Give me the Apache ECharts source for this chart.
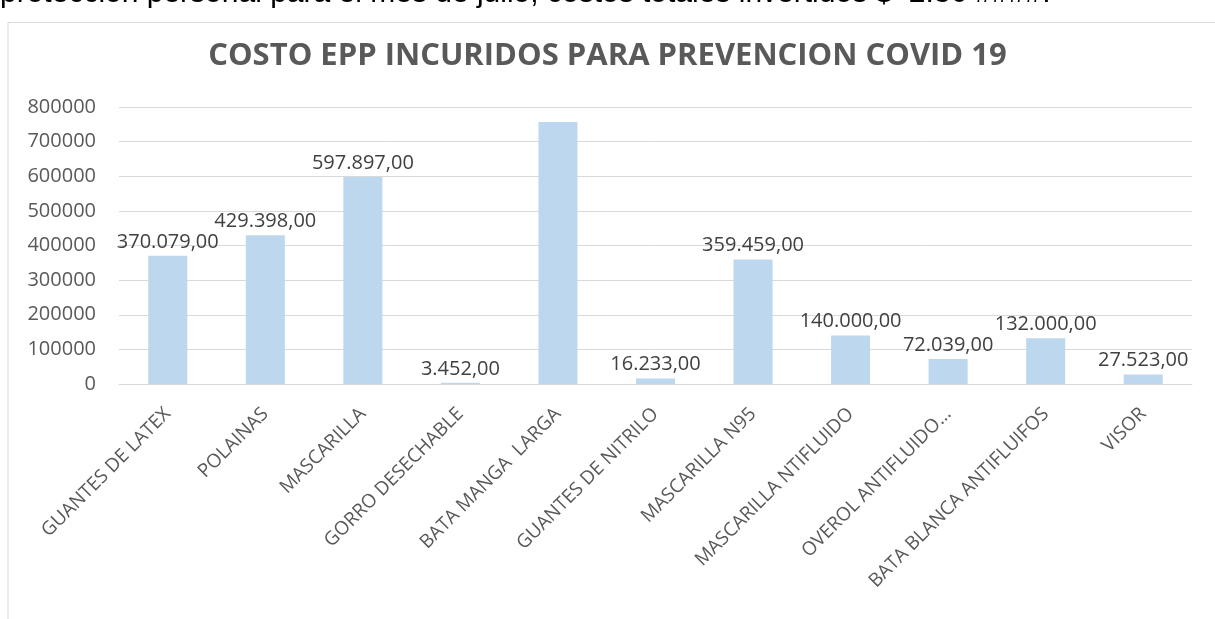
<!DOCTYPE html>
<html>
<head>
<meta charset="utf-8">
<script src="https://cdn.jsdelivr.net/npm/echarts@6/dist/echarts.min.js"></script>
<style>
  html, body { margin: 0; padding: 0; background: #fff; }
  #container { width: 1215px; height: 619px; }
</style>
</head>
<body>
<div id="container"></div>
<script>
var categories = ['GUANTES DE LATEX', 'POLAINAS', 'MASCARILLA', 'GORRO DESECHABLE', 'BATA MANGA  LARGA',
    'GUANTES DE NITRILO', 'MASCARILLA N95', 'MASCARILLA NTIFLUIDO', 'OVEROL ANTIFLUIDO…',
    'BATA BLANCA ANTIFLUIFOS', 'VISOR'];
var costos = [370079, 429398, 597897, 3452, 756600, 16233, 359459, 140000, 72039, 132000, 27523];
// la etiqueta de BATA MANGA LARGA no aparece en el original
var showLabel = [true, true, true, true, false, true, true, true, true, true, true];

// 370079 -> "370.079,00"
function formatoCOP(v) {
    var s = String(Math.round(v)).replace(/\B(?=(\d{3})+(?!\d))/g, '.');
    return s + ',00';
}

var myChart = echarts.init(document.getElementById('container'));

var option = {
    animation: false,
    title: {
        text: 'COSTO EPP INCURIDOS PARA PREVENCION COVID 19',
        left: 'center',
        top: 36,
        textStyle: {
            fontFamily: 'Open Sans',
            fontWeight: 'bold',
            fontSize: 31,
            color: '#595959'
        }
    },
    graphic: [
        {
            type: 'text',
            x: 0,
            y: 9,
            style: {
                text: 'protección personal para el mes de julio, costos totales invertidos $  2.36 ####.',
                font: '30px "Liberation Sans"',
                verticalAlign: 'bottom',
                fill: '#000'
            }
        },
        {
            type: 'polyline',
            shape: { points: [[8, 640], [8, 22.5], [1230, 22.5]] },
            style: { stroke: '#d9d9d9', lineWidth: 1, fill: null }
        }
    ],
    grid: { left: 119, right: 23, top: 107, bottom: 235 },
    xAxis: {
        type: 'category',
        data: categories,
        axisLine: { lineStyle: { color: '#d9d9d9', width: 1 } },
        axisTick: { show: false },
        axisLabel: {
            rotate: 45,
            interval: 0,
            margin: 27,
            fontFamily: 'Open Sans',
            fontSize: 19,
            color: '#595959'
        }
    },
    yAxis: {
        type: 'value',
        min: 0,
        max: 800000,
        interval: 100000,
        axisLine: { show: false },
        axisTick: { show: false },
        splitLine: { lineStyle: { color: '#d9d9d9', width: 1 } },
        axisLabel: {
            margin: 23,
            fontFamily: 'Open Sans',
            fontSize: 20,
            color: '#595959',
            formatter: function (v) { return String(v); }
        }
    },
    series: [{
        type: 'bar',
        barWidth: '40%',
        itemStyle: { color: '#bdd7ee' },
        data: costos.map(function (v, i) {
            return { value: v, label: { show: showLabel[i] } };
        }),
        label: {
            position: 'top',
            distance: 4,
            fontFamily: 'Open Sans',
            fontSize: 20,
            color: '#404040',
            formatter: function (p) { return formatoCOP(p.value); }
        }
    }]
};

myChart.setOption(option);
</script>
</body>
</html>
